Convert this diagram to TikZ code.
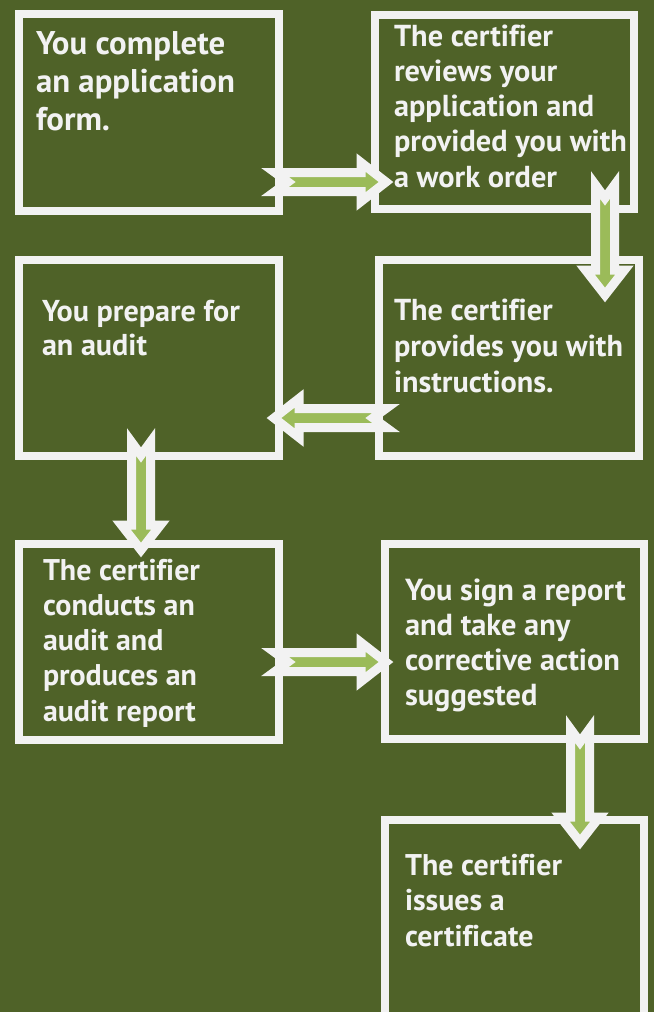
\documentclass[tikz,border=0pt]{standalone}
\usepackage{fontspec}
\setmainfont{PT Sans}[Ligatures=NoCommon]
\usetikzlibrary{calc}
\definecolor{bg}{HTML}{4F6228}
\definecolor{boxw}{HTML}{F2F2F2}
\definecolor{arrowg}{HTML}{9BBB59}
\newlength\fitw
\newcommand\fitfs[3]{\setbox0=\hbox{\normalfont\fontsize{10}{12}\selectfont\bfseries #2}\fitw=\wd0\relax\pgfmathsetmacro#1{10*#3/\fitw}}
\newcommand\steptext[3]{\fontsize{#1}{#2}\selectfont\begin{tabular}[t]{@{}l@{}}#3\end{tabular}}
\tikzset{
  stepbox/.style={draw=boxw, line width=8pt, inner sep=0pt, outer sep=0pt},
  steptxt/.style={anchor=base west, inner sep=0pt, outer sep=0pt, text=boxw, font=\bfseries},
  fatarrow/.style={draw=boxw, fill=arrowg, line width=9pt, line join=miter, miter limit=20,
    to path={let \p1=(\tikztostart), \p2=(\tikztotarget),
      \n1={veclen(\x2-\x1,\y2-\y1)}, \n2={(\x2-\x1)/\n1}, \n3={(\y2-\y1)/\n1} in
      ({\x1-9.5*\n3},{\y1+9.5*\n2})
      -- ({\x1+13*\n2},{\y1+13*\n3})
      -- ({\x1+9.5*\n3},{\y1-9.5*\n2})
      -- ({\x1+(\n1-25)*\n2+9.5*\n3},{\y1+(\n1-25)*\n3-9.5*\n2})
      -- ({\x1+(\n1-25)*\n2+19.5*\n3},{\y1+(\n1-25)*\n3-19.5*\n2})
      -- (\x2,\y2)
      -- ({\x1+(\n1-25)*\n2-19.5*\n3},{\y1+(\n1-25)*\n3+19.5*\n2})
      -- ({\x1+(\n1-25)*\n2-9.5*\n3},{\y1+(\n1-25)*\n3+9.5*\n2})
      -- cycle}}
}
\begin{document}
\fitfs\fsA{an application}{199}%
\fitfs\fsB{provided you with}{233}%
\fitfs\fsC{You prepare for}{198}%
\fitfs\fsD{provides you with}{229}%
\fitfs\fsE{The certifier}{157}%
\fitfs\fsF{corrective action}{215}%
\fitfs\fsG{The certifier}{157}%
\begin{tikzpicture}[x=1pt,y=-1pt]
\useasboundingbox (0,0) rectangle (654,1012);
\fill[bg] (0,0) rectangle (654,1012);
\clip (0,0) rectangle (654,1012);
% boxes
\node[stepbox, minimum width=260pt, minimum height=197pt] (b1) at (149,112.5) {};
\node[stepbox, minimum width=259pt, minimum height=194pt] (b2) at (504.5,112) {};
\node[stepbox, minimum width=260pt, minimum height=196pt] (b3) at (149,358) {};
\node[stepbox, minimum width=260pt, minimum height=196pt] (b4) at (509,358) {};
\node[stepbox, minimum width=260pt, minimum height=196pt] (b5) at (149,642) {};
\node[stepbox, minimum width=259pt, minimum height=195pt] (b6) at (514.5,641.5) {};
\node[stepbox, minimum width=259pt, minimum height=196pt] (b7) at (514.5,918) {};
% texts
\node[steptxt] (t1) at (36,54) {\steptext{\fsA}{38}{You complete\\an application\\form.}};
\node[steptxt] (t2) at (394,46) {\steptext{\fsB}{35.3}{The certifier\\reviews your\\application and\\provided you with\\a work order}};
\node[steptxt] (t3) at (42,321) {\steptext{\fsC}{34}{You prepare for\\an audit}};
\node[steptxt] (t4) at (394,320) {\steptext{\fsD}{36}{The certifier\\provides you with\\instructions.}};
\node[steptxt] (t5) at (43,580) {\steptext{\fsE}{35.3}{The certifier\\conducts an\\audit and\\produces an\\audit report}};
\node[steptxt] (t6) at (405,600) {\steptext{\fsF}{35}{You sign a report\\and take any\\corrective action\\suggested}};
\node[steptxt] (t7) at (405,875) {\steptext{\fsG}{35.5}{The certifier\\issues a\\certificate}};
% arrows
\coordinate (a1s) at (275,182); \coordinate (a1e) at (386,182);
\coordinate (a2s) at (605,185); \coordinate (a2e) at (605,295);
\coordinate (a3s) at (386,418); \coordinate (a3e) at (274,418);
\coordinate (a4s) at (141,442); \coordinate (a4e) at (141,550);
\coordinate (a5s) at (275,662); \coordinate (a5e) at (386,662);
\coordinate (a6s) at (580,729); \coordinate (a6e) at (580,842);
\draw[fatarrow] (a1s) to (a1e);
\draw[fatarrow] (a2s) to (a2e);
\draw[fatarrow] (a3s) to (a3e);
\draw[fatarrow] (a4s) to (a4e);
\draw[fatarrow] (a5s) to (a5e);
\draw[fatarrow] (a6s) to (a6e);
\end{tikzpicture}
\end{document}
